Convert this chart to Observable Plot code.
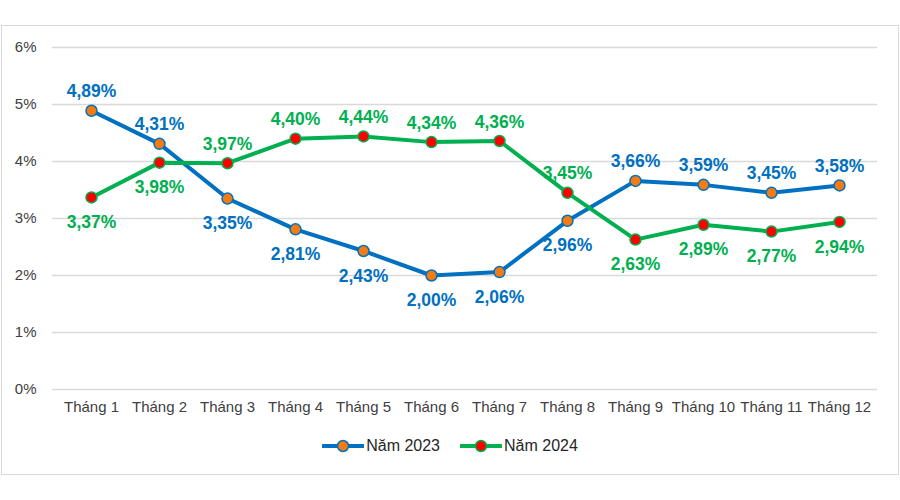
<!DOCTYPE html>
<html>
<head>
<meta charset="utf-8">
<script src="https://cdn.jsdelivr.net/npm/d3@7"></script>
<script src="https://cdn.jsdelivr.net/npm/@observablehq/plot@0.6"></script>
<style>
  html, body { margin: 0; padding: 0; background: #fff; }
  #wrap { position: relative; width: 900px; height: 500px; overflow: hidden; font-family: "Liberation Sans", Arial, sans-serif; }
  #frame { position: absolute; left: 1px; top: 25px; width: 896px; height: 448px; border: 1px solid #d9d9d9; box-sizing: content-box; }
  #chart { position: absolute; left: 0; top: 0; }
  #legend { position: absolute; left: 0; top: 434px; width: 900px; display: flex; justify-content: center; gap: 20px; font-size: 16px; color: #262626; }
  .item { display: flex; align-items: center; gap: 2px; }
</style>
</head>
<body>
<div id="wrap">
  <div id="frame"></div>
  <div id="chart"></div>
  <div id="legend"></div>
</div>
<script>
const months = ["Tháng 1","Tháng 2","Tháng 3","Tháng 4","Tháng 5","Tháng 6","Tháng 7","Tháng 8","Tháng 9","Tháng 10","Tháng 11","Tháng 12"];
const values2023 = [4.89, 4.31, 3.35, 2.81, 2.43, 2.00, 2.06, 2.96, 3.66, 3.59, 3.45, 3.58];
const values2024 = [3.37, 3.98, 3.97, 4.40, 4.44, 4.34, 4.36, 3.45, 2.63, 2.89, 2.77, 2.94];
const labelSide2023 = ["top","top","bottom","bottom","bottom","bottom","bottom","bottom","top","top","top","top"];
const labelSide2024 = ["bottom","bottom","top","top","top","top","top","top","bottom","bottom","bottom","bottom"];
const yTicks = [0, 1, 2, 3, 4, 5, 6];
const seriesNames = ["Năm 2023", "Năm 2024"];

const C = {
  blue: "#0070C0", orange: "#F47A12",
  green: "#00B050", red: "#FF0000",
  grid: "#d9d9d9", text: "#404040"
};

const build = (vals, sides, name) => months.map((m, i) => ({month: m, value: vals[i], side: sides[i], series: name}));
const d23 = build(values2023, labelSide2023, seriesNames[0]);
const d24 = build(values2024, labelSide2024, seriesNames[1]);
const fmt = v => v.toFixed(2).replace(".", ",") + "%";

const labelMarks = (data, color) => [
  Plot.text(data.filter(d => d.side === "top"), {x: "month", y: "value", text: d => fmt(d.value), dy: -19, fill: color, fontWeight: "bold", fontSize: 17.5}),
  Plot.text(data.filter(d => d.side === "bottom"), {x: "month", y: "value", text: d => fmt(d.value), dy: 25, fill: color, fontWeight: "bold", fontSize: 17.5})
];

const chart = Plot.plot({
  width: 900,
  height: 425,
  marginLeft: 52,
  marginRight: 23,
  marginTop: 47,
  marginBottom: 36,
  style: {fontFamily: "'Liberation Sans', Arial, sans-serif", fontSize: "15px", color: C.text, background: "transparent"},
  x: {type: "point", domain: months, padding: 0.5, label: null},
  y: {domain: [0, 6], label: null},
  axis: null,
  marks: [
    Plot.ruleY(yTicks, {stroke: C.grid, strokeWidth: 1.3}),
    Plot.axisY(yTicks, {tickSize: 0, tickPadding: 0, dx: -16, tickFormat: d => d + "%", fill: C.text, fontSize: 15, label: null}),
    Plot.axisX(months, {tickSize: 0, tickPadding: 12, fill: C.text, fontSize: 15, label: null}),
    Plot.line(d23, {x: "month", y: "value", stroke: C.blue, strokeWidth: 4}),
    Plot.line(d24, {x: "month", y: "value", stroke: C.green, strokeWidth: 4}),
    Plot.dot(d23, {x: "month", y: "value", r: 5.5, fill: C.orange, stroke: C.blue, strokeWidth: 1.5}),
    Plot.dot(d24, {x: "month", y: "value", r: 5.5, fill: C.red, stroke: C.green, strokeWidth: 1.5}),
    ...labelMarks(d23, C.blue),
    ...labelMarks(d24, C.green)
  ]
});
document.getElementById("chart").appendChild(chart);

const legend = document.getElementById("legend");
const legendItems = [
  {name: seriesNames[0], line: C.blue, fill: C.orange},
  {name: seriesNames[1], line: C.green, fill: C.red}
];
for (const it of legendItems) {
  const div = document.createElement("div");
  div.className = "item";
  div.innerHTML = `<svg width="42" height="24"><line x1="1" y1="12" x2="41" y2="12" stroke="${it.line}" stroke-width="4" stroke-linecap="round"/><circle cx="21" cy="12" r="5.5" fill="${it.fill}" stroke="${it.line}" stroke-width="1.5"/></svg><span>${it.name}</span>`;
  legend.appendChild(div);
}
</script>
</body>
</html>
